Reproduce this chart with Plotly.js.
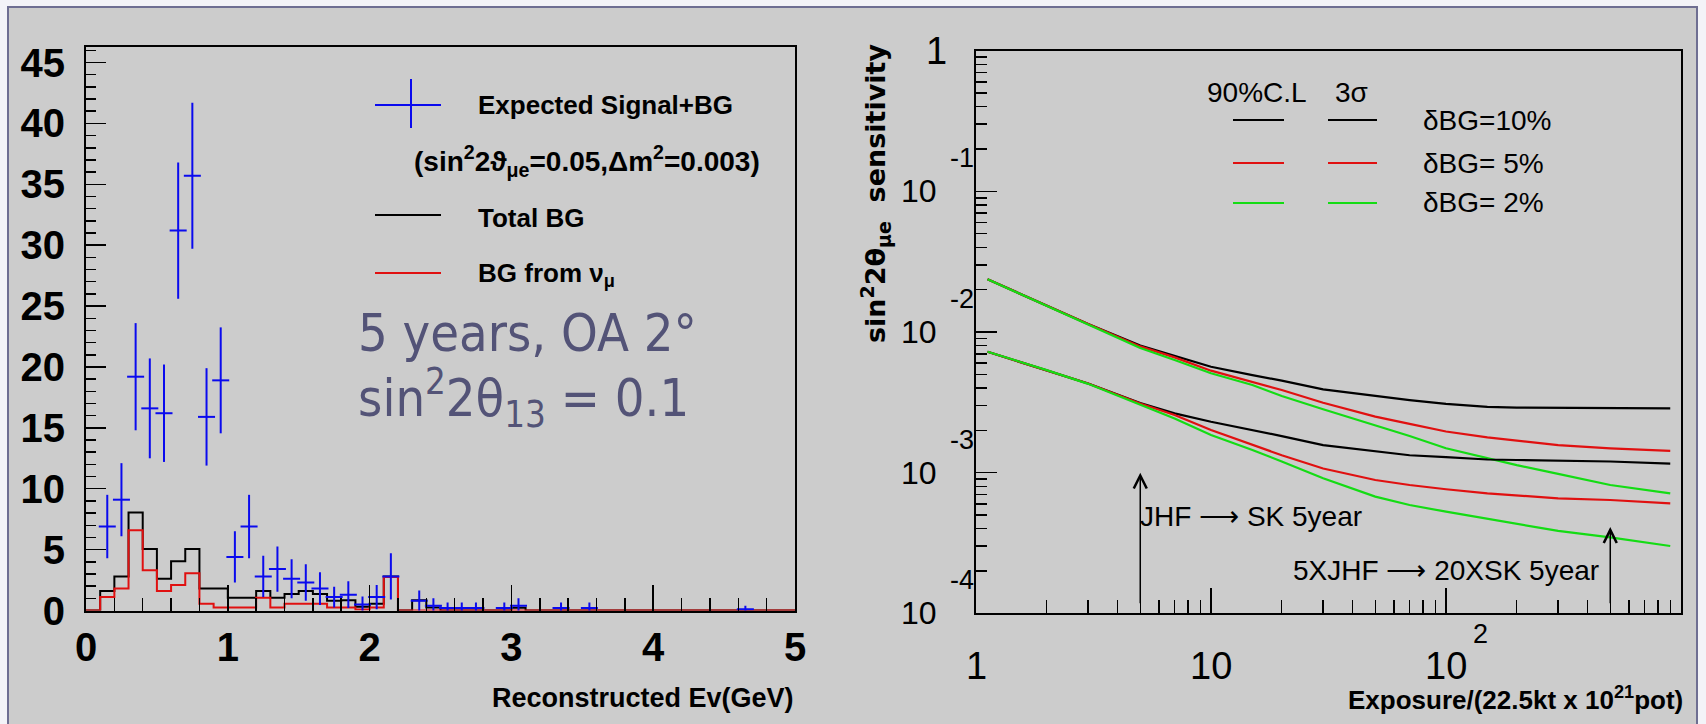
<!DOCTYPE html>
<html>
<head>
<meta charset="utf-8">
<script src="https://cdn.plot.ly/plotly-3.0.1.min.js"></script>
<style>
  html, body { margin: 0; padding: 0; background: #f3f3f8; }
  #chart { width: 1706px; height: 724px; }
</style>
</head>
<body>
<div id="chart"></div>
<script>
// ---------- Left panel: reconstructed energy spectrum, 5 years at OA 2 deg ----------
const HIST_BIN = 0.1; // GeV per bin, 50 bins from 0 to 5 GeV

const totalBG = [0, 1.6, 2.8, 8.05, 5.05, 2.6, 4.05, 5.05, 1.8, 1.8,
                 1.05, 1.05, 1.6, 1.05, 1.35, 1.6, 1.35, 0.8, 0.85, 0.3,
                 0.55, 2.8, 0, 0.85, 0.25, 0, 0, 0, 0, 0,
                 0.23, 0, 0, 0, 0, 0, 0, 0, 0, 0,
                 0, 0, 0, 0, 0, 0, 0, 0, 0, 0];

const numuBG = [0, 1.1, 1.8, 6.6, 3.3, 1.6, 2.1, 3.05, 0.55, 0.25,
                0.25, 0.25, 1.05, 0.25, 0.55, 0.55, 0.55, 0.25, 0.25, 0.08,
                0.25, 2.75, 0, 0, 0, 0, 0, 0, 0, 0,
                0, 0, 0, 0, 0, 0, 0, 0, 0, 0,
                0, 0, 0, 0, 0, 0, 0, 0, 0, 0];

// expected signal + background, at bin centres
const signalE   = [0.15, 0.25, 0.35, 0.45, 0.55, 0.65, 0.75, 0.85, 0.95, 1.05,
                   1.15, 1.25, 1.35, 1.45, 1.55, 1.65, 1.75, 1.85, 1.95, 2.05,
                   2.15, 2.35, 2.45, 2.55, 2.65, 2.75, 2.95, 3.05, 3.35, 3.55, 4.65];
const signalN   = [6.9, 9.1, 19.2, 16.6, 16.2, 31.2, 35.7, 15.9, 18.9, 4.4,
                   6.9, 2.8, 3.4, 2.6, 2.3, 1.8, 1.1, 1.3, 0.5, 1.1,
                   2.8, 0.8, 0.4, 0.2, 0.2, 0.2, 0.2, 0.4, 0.2, 0.2, 0.1];
const signalErr = [2.6, 3.0, 4.4, 4.1, 4.0, 5.6, 6.0, 4.0, 4.35, 2.1,
                   2.6, 1.7, 1.85, 1.6, 1.5, 1.35, 0.85, 1.1, 0.65, 1.0,
                   1.9, 0.85, 0.6, 0.45, 0.45, 0.45, 0.45, 0.6, 0.45, 0.45, 0.3];

// ---------- Right panel: sin^2 2theta_mue sensitivity vs exposure ----------
const exposure = [1.12, 2, 3, 5, 7, 10, 15, 20, 30, 50, 70, 100, 150, 200, 300, 500, 900];

const sens3s_dBG10 = [0.0237, 0.0154, 0.0114, 0.0080, 0.00675, 0.00566, 0.00494, 0.00451, 0.00391,
                      0.00351, 0.00328, 0.00308, 0.00294, 0.0029, 0.00288, 0.00286, 0.00286];
const sens3s_dBG5  = [0.0237, 0.0154, 0.0114, 0.0079, 0.0066, 0.00531, 0.00443, 0.00387, 0.00314,
                      0.0025, 0.00222, 0.00196, 0.00178, 0.00169, 0.00157, 0.00149, 0.00143];
const sens3s_dBG2  = [0.0237, 0.0154, 0.0114, 0.0077, 0.00632, 0.00509, 0.0042, 0.00351, 0.00282,
                      0.00218, 0.00182, 0.00149, 0.00126, 0.00113, 0.00098, 0.000817, 0.000713];

const sens90_dBG10 = [0.00724, 0.00536, 0.0043, 0.00312, 0.00264, 0.0023, 0.00201, 0.00182, 0.00157,
                      0.00141, 0.00133, 0.00129, 0.00124, 0.00123, 0.00122, 0.0012, 0.00116];
const sens90_dBG5  = [0.00724, 0.00536, 0.0043, 0.0031, 0.00257, 0.00201, 0.00157, 0.00133, 0.00107,
                      0.000887, 0.000817, 0.000762, 0.000713, 0.000686, 0.000657, 0.000639, 0.000605];
const sens90_dBG2  = [0.00724, 0.00536, 0.00428, 0.00305, 0.00243, 0.00185, 0.00145, 0.0012, 0.000912,
                      0.000675, 0.000589, 0.000528, 0.000469, 0.000431, 0.000385, 0.000347, 0.000301];

// exposures marked with arrows, and the sensitivity they point at
const markExposure = [5, 500];
const markSens     = [1e-3, 4.1e-4];
const markBase     = 1e-4;
const markText     = ['JHF \u27f6 SK 5year', '5XJHF \u27f6 20XSK 5year'];

// axis labelling
const sensDecadeExp = [-1, -2, -3, -4];
const exposureDecades = [1, 10, 100];
const exposureDecadeText = ['1', '10', '10'];

// ---------- styling ----------
const W = 1706, H = 724;
const px = x => x / W;
const py = y => 1 - y / H;

const NARROW = 'Liberation Sans Narrow, Arial Narrow, Liberation Sans, Arial, sans-serif';
const SANS = 'Liberation Sans, Arial, sans-serif';
const BLUE = '#0a0aee', RED = '#e01010', GREEN = '#14dc14', BLACK = '#000000';
const PANEL = '#cccccc';

// histogram outline: left edges plus the closing edge
function stepX(vals) { return vals.map((_, i) => +(i * HIST_BIN).toFixed(2)).concat([+(vals.length * HIST_BIN).toFixed(2)]); }
function stepY(vals) { return vals.concat([vals[vals.length - 1]]); }

const traces = [
  { x: stepX(totalBG), y: stepY(totalBG), xaxis: 'x', yaxis: 'y', mode: 'lines',
    line: { color: BLACK, width: 2, shape: 'hv' } },
  { x: stepX(numuBG), y: stepY(numuBG), xaxis: 'x', yaxis: 'y', mode: 'lines',
    line: { color: RED, width: 2, shape: 'hv' } },
  { x: signalE, y: signalN, xaxis: 'x', yaxis: 'y', mode: 'markers',
    marker: { size: 0, opacity: 0, color: BLUE },
    error_y: { type: 'data', array: signalErr, visible: true, color: BLUE, thickness: 2, width: 0 },
    error_x: { type: 'constant', value: 0.06, visible: true, color: BLUE, thickness: 2, width: 0 } }
];

const curves = [
  [sens3s_dBG10, BLACK], [sens3s_dBG5, RED], [sens3s_dBG2, GREEN],
  [sens90_dBG10, BLACK], [sens90_dBG5, RED], [sens90_dBG2, GREEN]
];
curves.forEach(([ys, c]) => traces.push({
  x: exposure, y: ys, xaxis: 'x2', yaxis: 'y2', mode: 'lines',
  line: { color: c, width: 2.2 }
}));

// minor tick positions for the log axes
const minorX = [], minorY = [];
for (let d = 0; d < 3; d++) for (let k = 2; k <= 9; k++) minorX.push(k * Math.pow(10, d));
for (let d = -4; d < 0; d++) for (let k = 2; k <= 9; k++) minorY.push(k * Math.pow(10, d));

function txt(text, x, y, anchor, font, extra) {
  return Object.assign({ xref: 'paper', yref: 'paper', x: px(x), y: py(y), text: text,
    showarrow: false, xanchor: anchor, yanchor: 'middle', font: font }, extra || {});
}
function seg(x0, x1, y0, y1, color, width) {
  return { type: 'line', xref: 'paper', yref: 'paper', x0: px(x0), x1: px(x1), y0: py(y0), y1: py(y1),
    line: { color: color, width: width } };
}

const fLeg = { family: NARROW, size: 26, color: BLACK, weight: 'bold' };
const fRoot = { family: SANS, size: 28, color: BLACK };
const fRTick = { family: NARROW, size: 32, color: BLACK };
const fRTickBig = { family: NARROW, size: 38, color: BLACK };
const fExp = { family: NARROW, size: 27, color: BLACK };
const fNote = { family: 'DejaVu Sans Condensed, Noto Sans, sans-serif', size: 52, color: '#535377' };

const annotations = [
  // left legend
  txt('Expected Signal+BG', 476, 105, 'left', fLeg),
  txt('(sin<sup>2</sup>2\u03d1<sub>\u03bce</sub>=0.05,\u0394m<sup>2</sup>=0.003)', 412, 161, 'left',
      { family: NARROW, size: 28, color: BLACK, weight: 'bold' }),
  txt('Total BG', 476, 218, 'left', fLeg),
  txt('BG from \u03bd<sub>\u03bc</sub>', 476, 275, 'left', fLeg),
  // overlay note
  txt('5 years, OA 2\u00b0', 356, 333, 'left', fNote),
  txt('sin<sup>2</sup>2\u03b8<sub>13</sub> = 0.1', 356, 398, 'left', fNote),
  // left x title
  txt('Reconstructed Ev(GeV)', 796, 698, 'right', { family: NARROW, size: 27, color: BLACK, weight: 'bold' }),

  // right legend
  txt('90%C.L', 1205, 92, 'left', fRoot),
  txt('3\u03c3', 1333, 92, 'left', fRoot),
  txt('\u03b4BG=10%', 1421, 120, 'left', fRoot),
  txt('\u03b4BG= 5%', 1421, 163, 'left', fRoot),
  txt('\u03b4BG= 2%', 1421, 203, 'left', fRoot),
  // right y title
  txt('sin<sup>2</sup>2\u03b8<sub>\u03bce</sub>  sensitivity', 876, 194, 'center',
      { family: 'DejaVu Sans, sans-serif', size: 27, color: BLACK, weight: 'bold' }, { textangle: -90 }),
  // right x title
  txt('Exposure/(22.5kt x 10<sup>21</sup>pot)', 1685, 698, 'right',
      { family: SANS, size: 26, color: BLACK, weight: 'bold' }),
  // top label of the sensitivity axis
  txt('1', 949, 51, 'right', fRTickBig),
  // arrow captions
  txt(markText[0], 1138, 516, 'left', fRoot),
  txt(markText[1], 1291, 570, 'left', fRoot)
];

// decade labels on the sensitivity axis: "10" with the exponent raised to the right
sensDecadeExp.forEach(e => {
  annotations.push({ xref: 'paper', yref: 'y2', x: px(939), y: e, text: '10', showarrow: false,
    xanchor: 'right', yanchor: 'middle', font: fRTick });
  annotations.push({ xref: 'paper', yref: 'y2', x: px(976), y: e, yshift: 33, text: String(e),
    showarrow: false, xanchor: 'right', yanchor: 'middle', font: fExp });
});
// decade labels on the exposure axis
exposureDecades.forEach((v, i) => {
  annotations.push({ xref: 'x2', yref: 'paper', x: Math.log10(v), y: py(666), text: exposureDecadeText[i],
    showarrow: false, xanchor: 'center', yanchor: 'middle', font: fRTickBig });
});
annotations.push({ xref: 'x2', yref: 'paper', x: Math.log10(exposureDecades[2]), xshift: 25, y: py(634),
  text: '2', showarrow: false, xanchor: 'left', yanchor: 'middle', font: fExp });

// arrows from the bottom of the frame up to the marked sensitivity
markExposure.forEach((v, i) => {
  annotations.push({ xref: 'x2', yref: 'y2', axref: 'x2', ayref: 'y2',
    x: Math.log10(v), y: Math.log10(markSens[i]), ax: Math.log10(v), ay: Math.log10(markBase),
    text: ' ', showarrow: true, arrowhead: 5, arrowsize: 1.7, arrowwidth: 1.5, arrowcolor: BLACK, standoff: 0 });
});

const shapes = [
  // slide panel
  { type: 'rect', xref: 'paper', yref: 'paper', x0: px(8), x1: px(1697), y0: -0.05, y1: py(7),
    fillcolor: PANEL, line: { color: '#6e6e92', width: 2 }, layer: 'below' },
  // left legend keys
  seg(375, 441, 105, 105, BLUE, 2),
  seg(411, 411, 79, 128, BLUE, 2),
  seg(375, 441, 215, 215, BLACK, 2),
  seg(375, 441, 273, 273, RED, 2),
  // right legend keys
  seg(1233, 1284, 120, 120, BLACK, 2), seg(1328, 1377, 120, 120, BLACK, 2),
  seg(1233, 1284, 163, 163, RED, 2),   seg(1328, 1377, 163, 163, RED, 2),
  seg(1233, 1284, 203, 203, GREEN, 2), seg(1328, 1377, 203, 203, GREEN, 2)
];

const frame = { showline: true, linecolor: BLACK, linewidth: 2, mirror: true,
  showgrid: false, zeroline: false, ticks: 'inside', tickcolor: BLACK, tickwidth: 1.5 };

const layout = Object.assign({
  width: W, height: H, margin: { l: 0, r: 0, t: 0, b: 0 },
  paper_bgcolor: '#f3f3f8', plot_bgcolor: PANEL, showlegend: false, hovermode: false,
  xaxis: Object.assign({}, frame, {
    domain: [px(86), px(795)], anchor: 'y', range: [0, 5], tick0: 0, dtick: 1, ticklen: 26,
    minor: { tick0: 0, dtick: 0.2, ticklen: 13, ticks: 'inside', tickcolor: BLACK, tickwidth: 1.5, showgrid: false },
    tickfont: { family: NARROW, size: 40, color: BLACK, weight: 'bold' }, ticklabelstandoff: 0
  }),
  yaxis: Object.assign({}, frame, {
    domain: [py(610.5), py(46.7)], anchor: 'x', range: [0, 46.3], tick0: 0, dtick: 5, ticklen: 20,
    minor: { tick0: 0, dtick: 1, ticklen: 10, ticks: 'inside', tickcolor: BLACK, tickwidth: 1.5, showgrid: false },
    tickfont: { family: NARROW, size: 40, color: BLACK, weight: 'bold' }, ticklabelstandoff: 11
  }),
  xaxis2: Object.assign({}, frame, {
    domain: [px(976), px(1681)], anchor: 'y2', type: 'log', range: [0, 3],
    tickmode: 'array', tickvals: exposureDecades, ticklen: 25, showticklabels: false,
    minor: { tickmode: 'array', tickvals: minorX, ticklen: 13, ticks: 'inside', tickcolor: BLACK, tickwidth: 1.5, showgrid: false }
  }),
  yaxis2: Object.assign({}, frame, {
    domain: [py(613.3), py(50.7)], anchor: 'x2', type: 'log', range: [-4, 0],
    tickmode: 'array', tickvals: [1e-4, 1e-3, 1e-2, 1e-1, 1], ticklen: 21, showticklabels: false,
    minor: { tickmode: 'array', tickvals: minorY, ticklen: 11, ticks: 'inside', tickcolor: BLACK, tickwidth: 1.5, showgrid: false }
  }),
  annotations: annotations,
  shapes: shapes
});

Plotly.newPlot('chart', traces, layout, { staticPlot: true, displayModeBar: false });
</script>
</body>
</html>
